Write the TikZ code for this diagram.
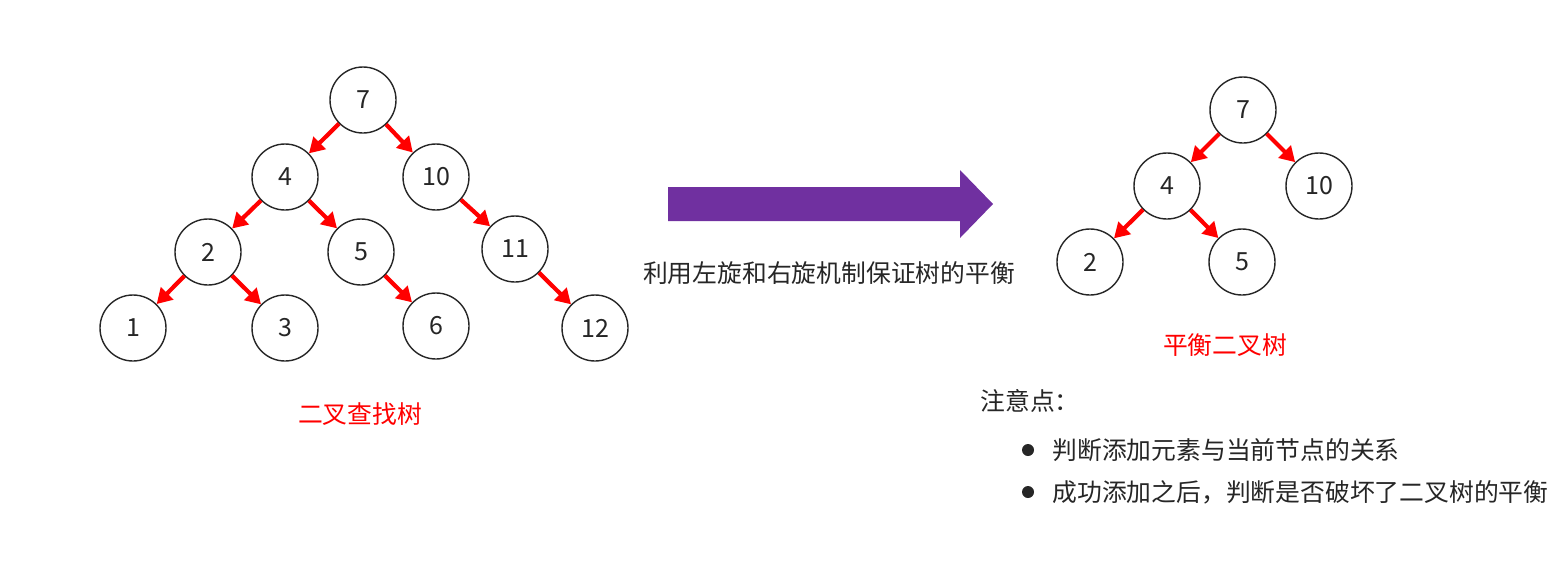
\documentclass[tikz,border=0pt]{standalone}
\usepackage{fontspec}
\setmainfont{Noto Sans CJK SC}
\usetikzlibrary{arrows.meta}
\definecolor{purp}{HTML}{7030A0}
\definecolor{txt}{HTML}{262626}
\tikzset{
  x=0.5pt, y=-0.5pt,
  tnode/.style={circle, draw=txt, line width=0.7pt, minimum size=33pt, inner sep=0pt, font=\fontsize{12.5}{14}\selectfont, text=txt},
  edge/.style={draw=red, line width=2.1pt, -{Triangle[length=7.5pt,width=8.5pt]}},
  label/.style={font=\fontsize{12.4}{14}\selectfont, inner sep=0pt},
}
\begin{document}
\begin{tikzpicture}
\useasboundingbox (0,0) rectangle (1559,574);
% left tree
\node[tnode] (a7) at (363,100) {7};
\node[tnode] (a4) at (285,177) {4};
\node[tnode] (a10) at (436,177) {10};
\node[tnode] (a2) at (208,252) {2};
\node[tnode] (a5) at (361,252) {5};
\node[tnode] (a11) at (515,249) {11};
\node[tnode] (a1) at (133,328) {1};
\node[tnode] (a3) at (285,328) {3};
\node[tnode] (a6) at (436,326) {6};
\node[tnode] (a12) at (595,328) {12};
\draw[edge] (a7) -- (a4);
\draw[edge] (a7) -- (a10);
\draw[edge] (a4) -- (a2);
\draw[edge] (a4) -- (a5);
\draw[edge] (a10) -- (a11);
\draw[edge] (a2) -- (a1);
\draw[edge] (a2) -- (a3);
\draw[edge] (a5) -- (a6);
\draw[edge] (a11) -- (a12);
\node[label, text=red] (lt) at (360,414) {二叉查找树};
% big arrow
\fill[purp] (668,187) -- (960,187) -- (960,170) -- (993,204) -- (960,238) -- (960,221) -- (668,221) -- cycle;
\node[label, text=txt] (mid) at (829,273) {利用左旋和右旋机制保证树的平衡};
% right tree
\node[tnode] (b7) at (1243,110) {7};
\node[tnode] (b4) at (1167,186) {4};
\node[tnode] (b10) at (1319,186) {10};
\node[tnode] (b2) at (1090,262) {2};
\node[tnode] (b5) at (1242,262) {5};
\draw[edge] (b7) -- (b4);
\draw[edge] (b7) -- (b10);
\draw[edge] (b4) -- (b2);
\draw[edge] (b4) -- (b5);
\node[label, text=red] (rt) at (1225,345) {平衡二叉树};
% notes
\node[label, text=txt, anchor=west] (note) at (980,401) {注意点：};
\fill[txt] (1028,450) circle (6);
\node[label, text=txt, anchor=west] (n1) at (1052,450) {判断添加元素与当前节点的关系};
\fill[txt] (1028,492) circle (6);
\node[label, text=txt, anchor=west] (n2) at (1052,492) {成功添加之后，判断是否破坏了二叉树的平衡};
\end{tikzpicture}
\end{document}
